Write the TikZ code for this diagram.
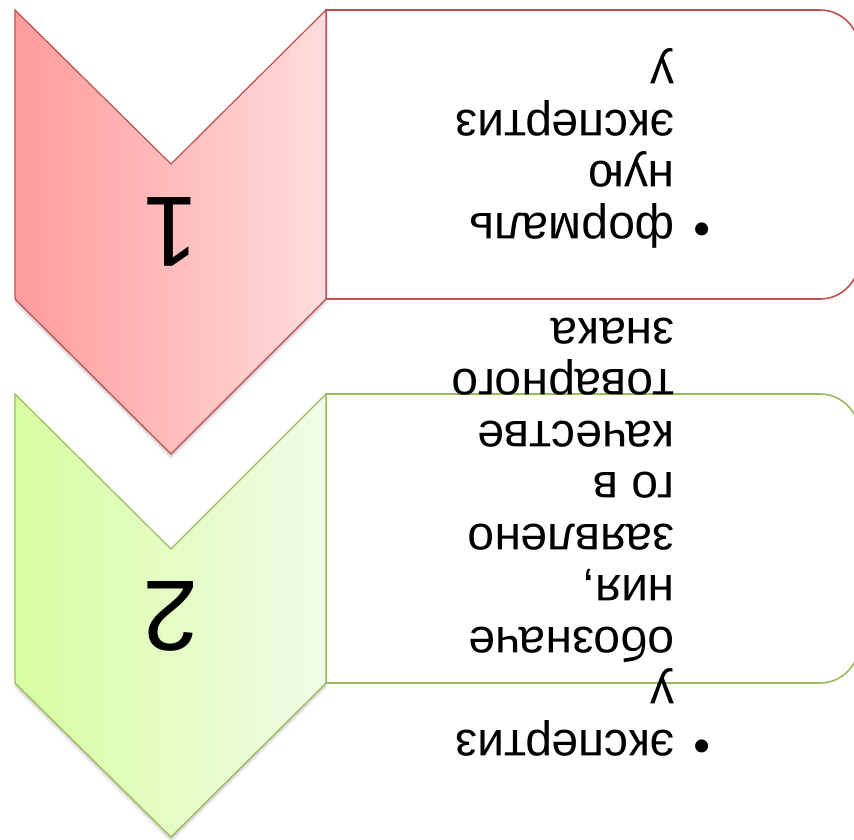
\documentclass[tikz,border=0pt]{standalone}
\usepackage{fontspec}
\setmainfont{Liberation Sans}

\definecolor{redline}{HTML}{C0504D}
\definecolor{redleft}{HTML}{FF9C9C}
\definecolor{redright}{HTML}{FFDCDC}
\definecolor{greenline}{HTML}{9BBB59}
\definecolor{greenleft}{HTML}{D7FDA0}
\definecolor{greenright}{HTML}{F1FCE7}

\begin{document}
\begin{tikzpicture}[x=1pt,y=-1pt,
    box/.style={line width=1.6pt, fill=white},
    chevron/.style={line width=1.2pt, line join=miter,
      preaction={fill=black, opacity=0.05, transform canvas={yshift=-6pt}},
      preaction={fill=black, opacity=0.07, transform canvas={yshift=-4pt}},
      preaction={fill=black, opacity=0.09, transform canvas={yshift=-2pt}}},
    num/.style={rotate=180, inner sep=0pt, font=\fontsize{100}{100}\selectfont},
    item/.style={rotate=180, inner sep=0pt, anchor=base west, font=\fontsize{48}{51.5}\selectfont}]

      \useasboundingbox (0,0) rectangle (854,839);
      \clip (0,0) rectangle (854,839);

      \draw[box, draw=redline] (326,10) -- (820,10)
        .. controls (841.5,10) and (859,27.5) .. (859,49) -- (859,260)
        .. controls (859,281.5) and (841.5,299) .. (820,299) -- (326,299) -- cycle;
      \draw[box, draw=greenline] (326,394) -- (820,394)
        .. controls (841.5,394) and (859,411.5) .. (859,433) -- (859,644)
        .. controls (859,665.5) and (841.5,683) .. (820,683) -- (326,683) -- cycle;

      \draw[chevron, draw=redline, left color=redleft, right color=redright]
        (15,10) -- (171,164) -- (326,10) -- (326,299) -- (171,454) -- (15,299) -- cycle;
      \draw[chevron, draw=greenline, left color=greenleft, right color=greenright]
        (15,394) -- (171,549) -- (326,394) -- (326,683) -- (171,837) -- (15,683) -- cycle;

      \node[num] (num-1) at (171,232) {1};
      \node[num] (num-2) at (171,616) {2};

      \node[item] (txt-1) at (675,213) {\begin{tabular}[t]{@{}l@{}}
        \llap{•\hspace{19pt}}формаль\\ную\\экспертиз\\у\end{tabular}};
      \node[item] (txt-2) at (675,730) {\begin{tabular}[t]{@{}l@{}}
        \llap{•\hspace{19pt}}экспертиз\\у\\обозначе\\ния,\\заявлено\\го в\\качестве\\товарного\\знака\end{tabular}};
\end{tikzpicture}
\end{document}
